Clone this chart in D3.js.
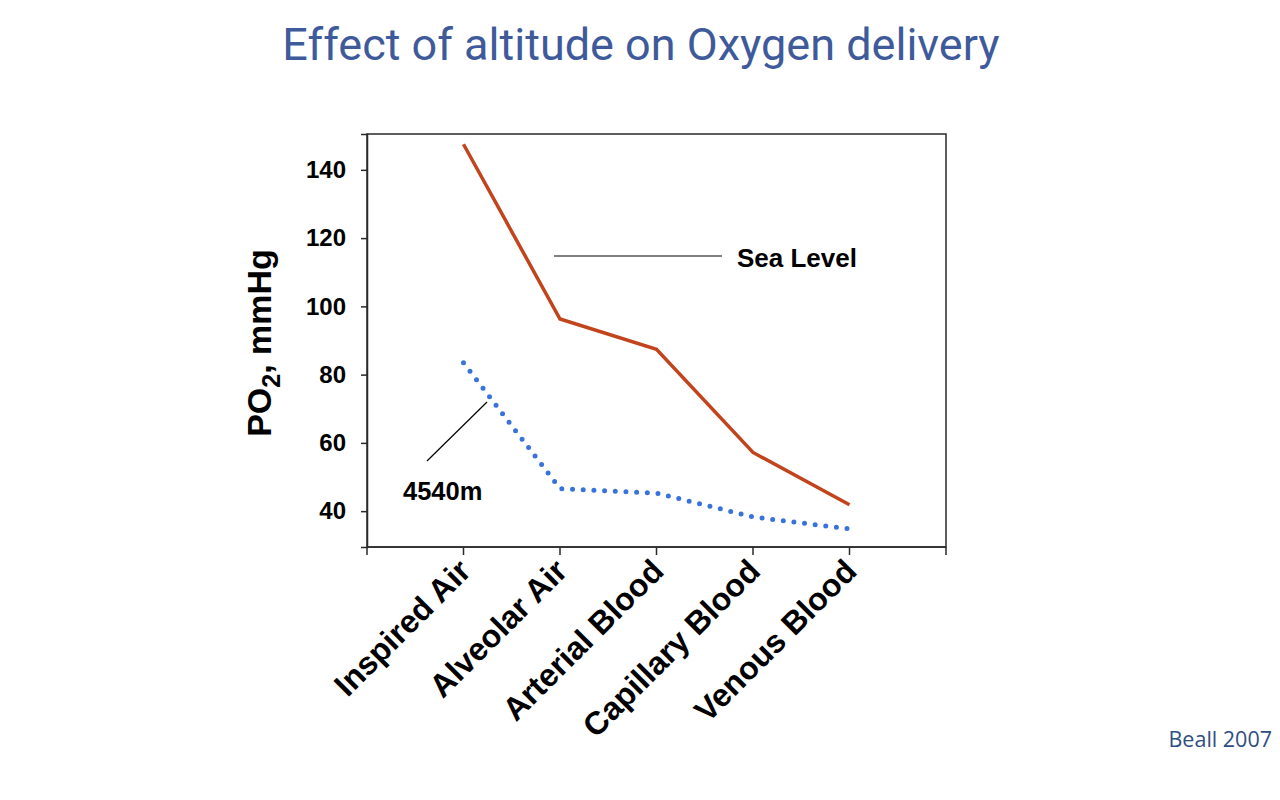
<!DOCTYPE html>
<html><head><meta charset="utf-8">
<script src="https://cdn.jsdelivr.net/npm/d3@7"></script>
<style>body{margin:0;background:#fff;} svg{display:block;}</style>
</head><body>
<svg id="c" width="1280" height="800"></svg>
<script>
const categories = ["Inspired Air","Alveolar Air","Arterial Blood","Capillary Blood","Venous Blood"];
const seaLevel = [147.5, 96.3, 87.4, 57.2, 41.9];
const altitude4540 = [83.5, 46.6, 45.3, 38.3, 34.8];
const yTicks = [40, 60, 80, 100, 120, 140];

const svg = d3.select("#c");
const L = 367, R = 946, T = 134, B = 547;
const x = d3.scalePoint().domain(categories).range([L, R]).padding(1);
const y = d3.scaleLinear().domain([29.5, 150.5]).range([B, T]);
const bold = "'Liberation Sans', Arial, sans-serif";

// title
svg.append("text").attr("x", 641).attr("y", 60).attr("text-anchor", "middle")
  .attr("font-family", "Roboto, sans-serif").attr("font-size", 45)
  .attr("fill", "#3e5a9b").text("Effect of altitude on Oxygen delivery");

// frame
svg.append("rect").attr("x", L).attr("y", T).attr("width", R - L).attr("height", B - T)
  .attr("fill", "none").attr("stroke", "#2a2a2a").attr("stroke-width", 1.5);

// y axis
const yAxis = svg.append("g").attr("transform", `translate(${L},0)`)
  .call(d3.axisLeft(y).tickValues(yTicks).tickSize(6).tickPadding(15));
yAxis.select(".domain").attr("stroke", "#2a2a2a").attr("stroke-width", 1.5);
yAxis.selectAll(".tick line").attr("stroke", "#2a2a2a").attr("stroke-width", 1.5);
yAxis.selectAll(".tick text").attr("font-family", bold).attr("font-weight", "bold")
  .attr("font-size", 24).attr("fill", "#000");

// x axis with boundary ticks
const step = x.step();
const xTickPos = [x(categories[0]) - step, ...categories.map(c => x(c)), x(categories[categories.length - 1]) + step];
const xg = svg.append("g");
xg.append("line").attr("x1", L).attr("x2", R).attr("y1", B).attr("y2", B)
  .attr("stroke", "#2a2a2a").attr("stroke-width", 1.5);
xg.selectAll("line.tk").data(xTickPos).join("line").attr("class", "tk")
  .attr("x1", d => d).attr("x2", d => d).attr("y1", B).attr("y2", B + 8)
  .attr("stroke", "#2a2a2a").attr("stroke-width", 1.5);
xg.selectAll("text").data(categories).join("text")
  .attr("transform", d => `translate(${x(d) + 9},${B + 26}) rotate(-45)`)
  .attr("text-anchor", "end").attr("font-family", bold).attr("font-weight", "bold")
  .attr("font-size", 32).attr("fill", "#000").text(d => d);

// y label
const yl = svg.append("text").attr("transform", "translate(271,343) rotate(-90)")
  .attr("text-anchor", "middle").attr("font-family", bold).attr("font-weight", "bold")
  .attr("font-size", 34).attr("fill", "#000");
yl.append("tspan").text("PO");
yl.append("tspan").attr("font-size", 25).attr("dy", 9).text("2");
yl.append("tspan").attr("dy", -9).text(", mmHg");

// lines
const line = d3.line().x((d, i) => x(categories[i])).y(d => y(d));
svg.append("path").datum(seaLevel).attr("d", line).attr("fill", "none")
  .attr("stroke", "#c2441d").attr("stroke-width", 3.5).attr("stroke-linejoin", "miter");
svg.append("path").datum(altitude4540).attr("d", line).attr("fill", "none")
  .attr("stroke", "#3a72dc").attr("stroke-width", 5).attr("stroke-linecap", "round")
  .attr("stroke-dasharray", "0 10.7");

// annotations
svg.append("line").attr("x1", 554).attr("x2", 722).attr("y1", 256).attr("y2", 256)
  .attr("stroke", "#000").attr("stroke-width", 1.2);
svg.append("text").attr("x", 737).attr("y", 267).attr("font-family", bold).attr("font-weight", "bold")
  .attr("font-size", 26).attr("fill", "#000").text("Sea Level");
svg.append("line").attr("x1", 427).attr("y1", 461).attr("x2", 487).attr("y2", 402)
  .attr("stroke", "#000").attr("stroke-width", 1.2);
svg.append("text").attr("x", 403).attr("y", 500).attr("font-family", bold).attr("font-weight", "bold")
  .attr("font-size", 25.5).attr("fill", "#000").text("4540m");

// source
svg.append("text").attr("x", 1272).attr("y", 747).attr("text-anchor", "end")
  .attr("font-family", "'Open Sans', sans-serif").attr("font-size", 21.5)
  .attr("fill", "#2f4e80").text("Beall 2007");
</script>
</body></html>
